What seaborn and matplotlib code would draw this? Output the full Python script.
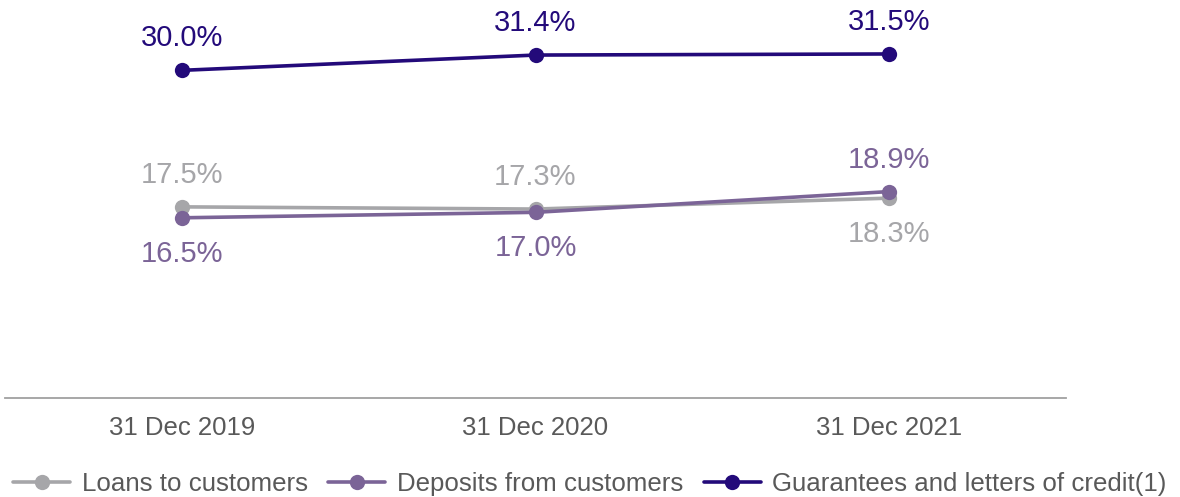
import matplotlib
matplotlib.use("Agg")
import matplotlib.pyplot as plt
import seaborn as sns
import pandas as pd

categories = ["31 Dec 2019", "31 Dec 2020", "31 Dec 2021"]
series_names = ["Loans to customers", "Deposits from customers", "Guarantees and letters of credit(1)"]
loans = [17.5, 17.3, 18.3]
deposits = [16.5, 17.0, 18.9]
guarantees = [30.0, 31.4, 31.5]
label_pos = {  # +1 above, -1 below
    "Loans to customers": [1, 1, -1],
    "Deposits from customers": [-1, -1, 1],
    "Guarantees and letters of credit(1)": [1, 1, 1],
}
colors = ["#A6A6A9", "#7B6497", "#230A7A"]

sns.set_theme(style="white")
plt.rcParams["font.family"] = ["Liberation Sans", "DejaVu Sans"]

rows = []
for name, vals in zip(series_names, [loans, deposits, guarantees]):
    for i, (c, v) in enumerate(zip(categories, vals)):
        rows.append({"date": c, "x": i, "value": v, "series": name})
df = pd.DataFrame(rows)

fig = plt.figure(figsize=(11.8, 4.97), dpi=100)
ax = fig.add_axes([5 / 1180, 1 - 398 / 497, 1061 / 1180, 391 / 497])

sns.lineplot(data=df, x="x", y="value", hue="series", hue_order=series_names,
             palette=colors, marker="o", markersize=11, markeredgewidth=0,
             linewidth=2.6, ax=ax, legend=True)

for name, col in zip(series_names, colors):
    sub = df[df.series == name]
    for (_, r), p in zip(sub.iterrows(), label_pos[name]):
        ax.annotate(f"{r.value:.1f}%", (r.x, r.value), xytext=(0, 23 if p > 0 else -26),
                    textcoords="offset points", ha="center", va="center",
                    fontsize=21, color=col)

ax.set_xlim(-0.5, 2.5)
ax.set_ylim(0, 35.8)
ax.set_xticks(range(len(categories)))
ax.set_xticklabels(categories, fontsize=18.5, color="#595959")
ax.set_yticks([])
ax.set_xlabel("")
ax.set_ylabel("")
for s in ["top", "right", "left"]:
    ax.spines[s].set_visible(False)
ax.spines["bottom"].set_color("#A0A0A0")
ax.spines["bottom"].set_linewidth(1.3)
ax.tick_params(axis="x", length=0, pad=13)

handles, labels = ax.get_legend_handles_labels()
ax.get_legend().remove()
leg = fig.legend(handles, labels, loc="lower center", bbox_to_anchor=(0.5, -0.03), ncol=3,
                 frameon=False, fontsize=18.6, handlelength=2.2, handletextpad=0.45,
                 columnspacing=0.8, borderaxespad=0.2)
for t in leg.get_texts():
    t.set_color("#595959")

fig.savefig("out.png", dpi=100)
